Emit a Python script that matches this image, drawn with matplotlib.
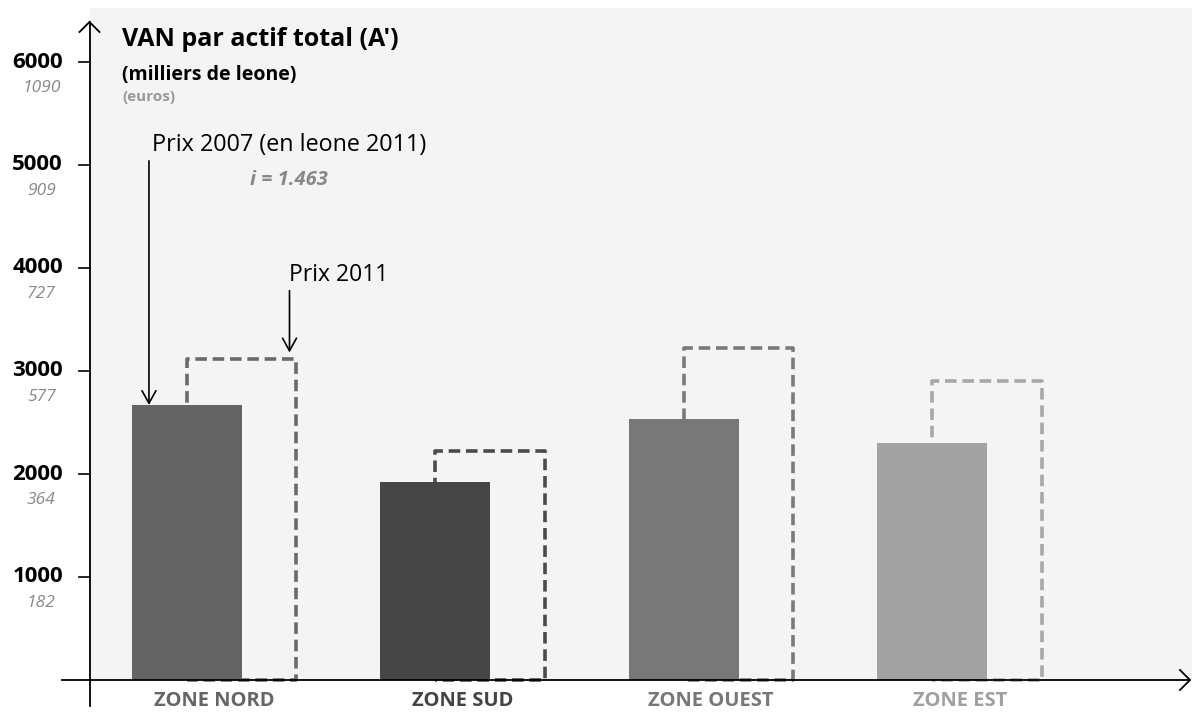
import matplotlib
matplotlib.use("Agg")
import matplotlib.pyplot as plt
from matplotlib.lines import Line2D

plt.rcParams['font.family'] = ['Open Sans', 'DejaVu Sans']

zones = ["ZONE NORD", "ZONE SUD", "ZONE OUEST", "ZONE EST"]
prix_2007 = [2670, 1920, 2530, 2300]
prix_2011 = [3120, 2220, 3220, 2900]
zone_colors = ["#646464", "#464646", "#787878", "#a2a2a2"]
dash_colors = ["#6a6a6a", "#4a4a4a", "#7a7a7a", "#a8a8a8"]
label_colors = ["#666666", "#444444", "#777777", "#a0a0a0"]
yticks = [1000, 2000, 3000, 4000, 5000, 6000]
euro_labels = ["182", "364", "577", "727", "909", "1090"]

W, H = 1192, 713
fig = plt.figure(figsize=(W / 100, H / 100), dpi=100)
ax = fig.add_axes([90 / W, (H - 680) / H, (W - 90) / W, (680 - 8) / H])
ax.set_facecolor("#f4f4f4")
ax.set_xlim(-0.5, 3.935)
ax.set_ylim(0, 672 / 103.0 * 1000)
for s in ax.spines.values():
    s.set_visible(False)
ax.set_xticks([])
ax.set_yticks([])

bw = 0.442
off = 0.11
x = list(range(len(zones)))
for i in x:
    # dashed 2011 outline
    x0 = i + off - bw / 2
    x1 = i + off + bw / 2
    v = prix_2011[i]
    ax.plot([x0, x0, x1, x1, x0], [0, v, v, 0, 0], ls=(0, (3.2, 1.6)), lw=2.6,
            color=dash_colors[i], zorder=2, solid_capstyle='butt', dash_capstyle='butt',
            clip_on=False)
ax.bar([i - off for i in x], prix_2007, width=bw, color=zone_colors, zorder=3)

# axes lines
fig.add_artist(Line2D([62 / W, 1190 / W], [(H - 680) / H] * 2, color="black", lw=1.3))
fig.add_artist(Line2D([89.5 / W, 89.5 / W], [(H - 706) / H, (H - 22) / H], color="black", lw=1.3))
# arrow heads
fig.add_artist(Line2D([1180 / W, 1190 / W, 1180 / W], [(H - 670) / H, (H - 680) / H, (H - 690) / H], color="black", lw=1.3))
fig.add_artist(Line2D([79.5 / W, 89.5 / W, 99.5 / W], [(H - 32) / H, (H - 22) / H, (H - 32) / H], color="black", lw=1.3))

for v, e in zip(yticks, euro_labels):
    ax.plot([-11 / 249 - 0.5, -0.5], [v, v], color="black", lw=1.2, clip_on=False)
    ax.annotate(str(v), xy=(-0.5, v), xytext=(-19.5, 0), textcoords="offset points",
                ha="right", va="center", fontsize=16, fontweight="bold", color="black",
                annotation_clip=False)
    ax.annotate(e, xy=(-0.5, v), xytext=(-35, -19), textcoords="offset points",
                ha="center", va="center", fontsize=12.5, fontstyle="italic", color="#888888",
                annotation_clip=False)

for i in x:
    ax.annotate(zones[i], xy=(i, 0), xytext=(0, -8), textcoords="offset points",
                ha="center", va="top", fontsize=14.5, fontweight="bold",
                color=label_colors[i], annotation_clip=False)

# titles
fig.text(122 / W, 1 - 40 / H, "VAN par actif total (A')", fontsize=18, fontweight="bold",
         ha="left", va="center")
fig.text(122 / W, 1 - 75 / H, "(milliers de leone)", fontsize=14, fontweight="bold",
         ha="left", va="center")
fig.text(122 / W, 1 - 97 / H, "(euros)", fontsize=11, fontweight="bold", color="#999999",
         ha="left", va="center")

# annotations
ax.annotate("", xy=(0 - off - bw / 2 + 17 / 249, prix_2007[0]), xytext=(0 - off - bw / 2 + 17 / 249, 5040),
            arrowprops=dict(arrowstyle="->,head_length=0.9,head_width=0.5", lw=1.2, color="black",
                            shrinkA=0, shrinkB=0))
fig.text(152 / W, 1 - 145 / H, "Prix 2007 (en leone 2011)", fontsize=16.8, ha="left", va="center")
fig.text(289 / W, 1 - 180 / H, "i = 1.463", fontsize=14.5, fontstyle="italic", fontweight="bold",
         color="#888888", ha="center", va="center")
ax.annotate("", xy=(0 + off + bw / 2 - 7 / 249, prix_2011[0] + 60),
            xytext=(0 + off + bw / 2 - 7 / 249, 3780),
            arrowprops=dict(arrowstyle="->,head_length=0.9,head_width=0.5", lw=1.2, color="black",
                            shrinkA=0, shrinkB=0))
fig.text(289 / W, 1 - 275 / H, "Prix 2011", fontsize=16.5, ha="left", va="center")

fig.savefig("out.png", dpi=100)
